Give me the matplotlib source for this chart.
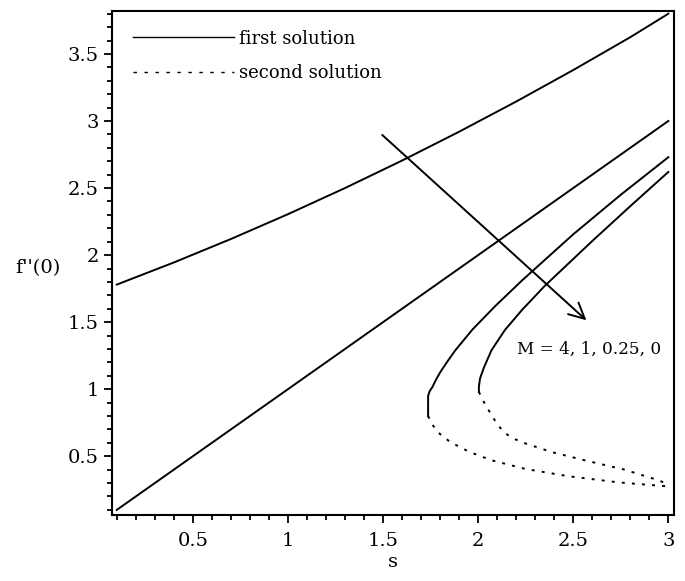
import matplotlib
matplotlib.use("Agg")
import matplotlib.pyplot as plt
from matplotlib.lines import Line2D
from matplotlib.ticker import MultipleLocator, FuncFormatter

plt.rcParams['font.family'] = ['DejaVu Serif']

# first solution branches (solid)
s_m4 = [0.1, 0.4, 0.7, 1.0, 1.3, 1.6, 1.9, 2.2, 2.5, 2.8, 3.0]
f_m4 = [1.78, 1.945, 2.12, 2.305, 2.50, 2.705, 2.92, 3.145, 3.38, 3.625, 3.80]

s_m1 = [0.1, 1.0, 2.0, 3.0]
f_m1 = [0.1, 1.0, 2.0, 3.0]

s_m025_up = [1.737, 1.737, 1.745, 1.759, 1.78, 1.80, 1.84, 1.88, 1.97, 2.09, 2.23, 2.5, 2.75, 3.0]
f_m025_up = [0.80, 0.95, 0.985, 1.015, 1.075, 1.125, 1.21, 1.29, 1.445, 1.62, 1.81, 2.155, 2.45, 2.73]

s_m0_up = [2.004, 2.004, 2.01, 2.03, 2.07, 2.14, 2.23, 2.35, 2.6, 2.8, 3.0]
f_m0_up = [0.98, 1.02, 1.08, 1.16, 1.29, 1.44, 1.59, 1.77, 2.105, 2.365, 2.62]

# second solution branches (dotted)
s_m025_lo = [1.737, 1.759, 1.80, 1.855, 1.95, 2.07, 2.25, 2.48, 2.74, 3.0]
f_m025_lo = [0.80, 0.735, 0.665, 0.605, 0.535, 0.47, 0.405, 0.35, 0.305, 0.275]

s_m0_lo = [2.004, 2.03, 2.065, 2.10, 2.135, 2.18, 2.25, 2.39, 2.56, 2.77, 2.95, 3.0]
f_m0_lo = [0.98, 0.905, 0.82, 0.74, 0.68, 0.635, 0.595, 0.53, 0.47, 0.40, 0.32, 0.29]

# arrow showing increasing M direction
arrow_start = (1.485, 2.91)
arrow_end = (2.58, 1.50)
label_pos = (2.205, 1.295)

lw = 1.4
dot = (0, (1.5, 3.7))

fig = plt.figure(figsize=(6.85, 5.81), dpi=100)
ax = fig.add_axes([0.1635, 0.1136, 0.8205, 0.8674])

for s, f in [(s_m4, f_m4), (s_m1, f_m1), (s_m025_up, f_m025_up), (s_m0_up, f_m0_up)]:
    ax.plot(s, f, color='black', lw=lw)
for s, f in [(s_m025_lo, f_m025_lo), (s_m0_lo, f_m0_lo)]:
    ax.plot(s, f, color='black', lw=lw, linestyle=dot)

ax.annotate('', xy=arrow_end, xytext=arrow_start,
            arrowprops=dict(arrowstyle='->', color='black', lw=lw,
                            mutation_scale=28))
ax.text(label_pos[0], label_pos[1], 'M = 4, 1, 0.25, 0', fontsize=12.2,
        va='center', ha='left')

ax.set_xlim(0.075, 3.03)
ax.set_ylim(0.062, 3.82)

fmt = FuncFormatter(lambda v, p: ('%g' % round(v, 2)))
ax.xaxis.set_major_locator(MultipleLocator(0.5))
ax.xaxis.set_minor_locator(MultipleLocator(0.1))
ax.yaxis.set_major_locator(MultipleLocator(0.5))
ax.yaxis.set_minor_locator(MultipleLocator(0.1))
ax.xaxis.set_major_formatter(fmt)
ax.yaxis.set_major_formatter(fmt)
ax.tick_params(which='major', direction='out', length=6, width=1.3, labelsize=14)
ax.tick_params(which='minor', direction='out', length=3.5, width=1.3)
ax.tick_params(axis='x', pad=6)
for sp in ax.spines.values():
    sp.set_linewidth(1.5)

ax.set_xlabel('s', fontsize=14)
ax.xaxis.set_label_coords(0.5, -0.075)
ax.set_ylabel("f''(0)", fontsize=14, rotation=0, ha='center', va='center')
ax.yaxis.set_label_coords(-0.132, 0.49)

handles = [Line2D([], [], color='black', lw=1.0),
           Line2D([], [], color='black', lw=1.0, linestyle=(0, (2.5, 5.4)))]
ax.legend(handles, ['first solution', 'second solution'], loc='upper left',
          frameon=False, fontsize=13, handlelength=5.6, handletextpad=0.3,
          labelspacing=0.89, borderaxespad=0.5, bbox_to_anchor=(0.008, 0.995))

fig.savefig('out.png', dpi=100)
